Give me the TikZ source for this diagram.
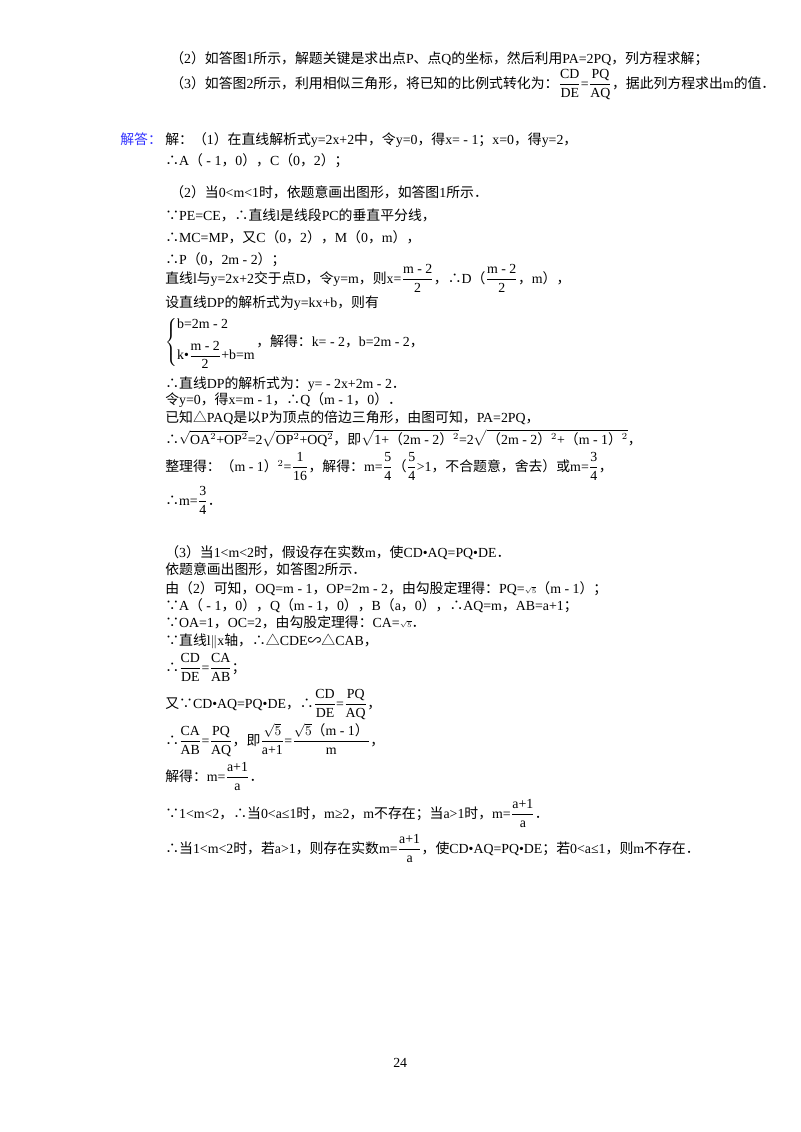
\documentclass[tikz,border=0pt]{standalone}
\usepackage{fontspec}
\setmainfont{Liberation Serif}
\newfontfamily\cjk{Noto Sans CJK SC}
\newXeTeXintercharclass\cjkclass
\newcount\cc
\def\setrange#1#2{\cc=#1 \loop \XeTeXcharclass\cc=\cjkclass \ifnum\cc<#2 \advance\cc 1 \repeat}
\setrange{"4E00}{"9FFF}
\setrange{"FF00}{"FFEF}
\setrange{"3000}{"303F}
\XeTeXcharclass"2234=\cjkclass
\XeTeXcharclass"2235=\cjkclass
\XeTeXcharclass"25B3=\cjkclass
\XeTeXcharclass"223D=\cjkclass
\XeTeXinterchartoks 0 \cjkclass = {\begingroup\cjk}
\XeTeXinterchartoks 4095 \cjkclass = {\begingroup\cjk}
\XeTeXinterchartoks \cjkclass 0 = {\endgroup}
\XeTeXinterchartoks \cjkclass 4095 = {\endgroup}
\XeTeXinterchartokenstate=1
\newcommand\F[2]{$\displaystyle\frac{\hbox{#1}}{\hbox{#2}}$}
\newcommand\SQ[1]{$\sqrt{\hbox{#1}}$}
\begin{document}
\begin{tikzpicture}[x=0.75pt,y=-0.75pt,
  t/.style={anchor=base west,inner sep=0pt,font=\fontsize{10.4}{12}\selectfont}]
\useasboundingbox (0,0) rectangle (800,1132);
\fill[white] (0,0) rectangle (800,1132);
\node[t] (l1) at (170,63) {（2）如答图1所示，解题关键是求出点P、点Q的坐标，然后利用PA=2PQ，列方程求解；};
\node[t] (l2) at (170,88) {（3）如答图2所示，利用相似三角形，将已知的比例式转化为：\F{CD}{DE}=\F{PQ}{AQ}，据此列方程求出m的值．};
\node[t,text=blue!80!white] (jd) at (120,144) {解答：};
\node[t] (l3) at (165,144) {解：（1）在直线解析式y=2x+2中，令y=0，得x= - 1；x=0，得y=2，};
\node[t] (l4) at (165,165) {∴A（ - 1，0），C（0，2）；};
\node[t] (l5) at (170,197) {（2）当0<m<1时，依题意画出图形，如答图1所示．};
\node[t] (l6) at (165,220) {∵PE=CE，∴直线l是线段PC的垂直平分线，};
\node[t] (l7) at (165,242) {∴MC=MP，又C（0，2），M（0，m），};
\node[t] (l8) at (165,264) {∴P（0，2m - 2）；};
\node[t] (l9) at (165,283) {直线l与y=2x+2交于点D，令y=m，则x=\F{m - 2}{2}，∴D（\F{m - 2}{2}，m），};
\node[t] (l10) at (165,307) {设直线DP的解析式为y=kx+b，则有};
\node[t] (l11) at (165,346) {$\left\{\begin{array}{@{}l@{}}\hbox{b=2m - 2}\\[6pt] \hbox{k•}\displaystyle\frac{\hbox{m - 2}}{\hbox{2}}\hbox{+b=m}\end{array}\right.$，解得：k= - 2，b=2m - 2，};
\node[t] (l12) at (165,388) {∴直线DP的解析式为：y= - 2x+2m - 2．};
\node[t] (l13) at (165,404) {令y=0，得x=m - 1，∴Q（m - 1，0）．};
\node[t] (l14) at (165,422) {已知△PAQ是以P为顶点的倍边三角形，由图可知，PA=2PQ，};
\node[t] (l15) at (165,444) {∴\SQ{OA$^2$+OP$^2$}=2\SQ{OP$^2$+OQ$^2$}，即\SQ{1+（2m - 2）$^2$}=2\SQ{（2m - 2）$^2$+（m - 1）$^2$}，};
\node[t] (l16) at (165,471) {整理得：（m - 1）$^2$=\F{1}{16}，解得：m=\F{5}{4}（\F{5}{4}>1，不合题意，舍去）或m=\F{3}{4}，};
\node[t] (l17) at (165,505) {∴m=\F{3}{4}．};
\node[t] (l18) at (165,557) {（3）当1<m<2时，假设存在实数m，使CD•AQ=PQ•DE．};
\node[t] (l19) at (165,574) {依题意画出图形，如答图2所示．};
\node[t] (l20) at (165,593) {由（2）可知，OQ=m - 1，OP=2m - 2，由勾股定理得：PQ={\tiny$\sqrt5$}（m - 1）；};
\node[t] (l21) at (165,610) {∵A（ - 1，0），Q（m - 1，0），B（a，0），∴AQ=m，AB=a+1；};
\node[t] (l22) at (165,627) {∵OA=1，OC=2，由勾股定理得：CA={\tiny$\sqrt5$}．};
\node[t] (l23) at (165,645) {∵直线l$\|$x轴，∴△CDE∽△CAB，};
\node[t] (l24) at (165,672) {∴\F{CD}{DE}=\F{CA}{AB}；};
\node[t] (l25) at (165,708) {又∵CD•AQ=PQ•DE，∴\F{CD}{DE}=\F{PQ}{AQ}，};
\node[t] (l26) at (165,745) {∴\F{CA}{AB}=\F{PQ}{AQ}，即\F{$\sqrt{5}$}{a+1}=\F{$\sqrt{5}$（m - 1）}{m}，};
\node[t] (l27) at (165,781) {解得：m=\F{a+1}{a}．};
\node[t] (l28) at (165,818) {∵1<m<2，∴当0<a≤1时，m≥2，m不存在；当a>1时，m=\F{a+1}{a}．};
\node[t] (l29) at (165,853) {∴当1<m<2时，若a>1，则存在实数m=\F{a+1}{a}，使CD•AQ=PQ•DE；若0<a≤1，则m不存在．};
\node[t] (pg) at (393,1067) {24};
\end{tikzpicture}
\end{document}
